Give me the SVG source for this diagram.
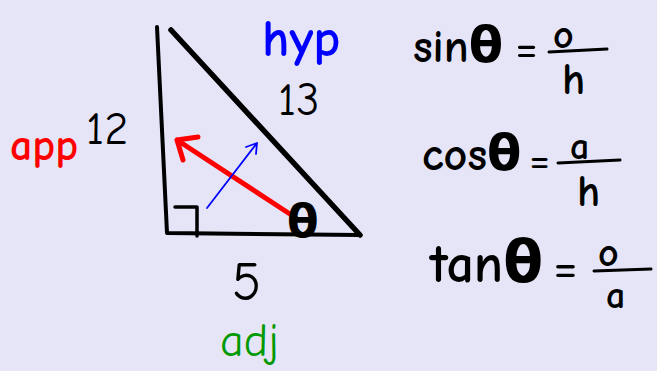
<svg xmlns="http://www.w3.org/2000/svg" width="657" height="371" viewBox="0 0 657 371">
<style>
.k{stroke:#000;fill:none;stroke-linecap:round;stroke-linejoin:round}
.t{font-family:"Comic Neue","DejaVu Sans","Liberation Sans",sans-serif;fill:#000}
.b{font-weight:bold}
.th{font-family:"DejaVu Sans",sans-serif;font-weight:bold}
</style>
<rect width="657" height="371" fill="#e5e5f7"/>
<g id="triangle">
<path class="k" stroke-width="4" d="M157,27 L167,233 L360,235"/>
<path class="k" stroke-width="5.5" d="M171,30 L360,235"/>
<path class="k" stroke-width="3.5" d="M175,207 L197,207 L197,236"/>
</g>
<g id="arrows">
<path stroke="#ff0000" fill="none" stroke-width="5" stroke-linecap="round" stroke-linejoin="round" d="M296,218 L177,140 M198,137 L177,140 L183,160"/>
<path stroke="#0000ff" fill="none" stroke-width="1.8" stroke-linecap="round" stroke-linejoin="round" d="M207,208 L257,143 M246,147 L257,143 L256,154"/>
</g>
<g id="labels">
<text class="t th" x="287" y="237" font-size="46">θ</text>
<text class="t b" x="262" y="56" font-size="52" style="fill:#0000ff">hyp</text>
<text class="t" x="278" y="115" font-size="46">13</text>
<text class="t" x="86" y="144" font-size="46">12</text>
<text class="t b" x="10" y="160" font-size="44" style="fill:#ff0000">app</text>
<text class="t" x="232" y="300" font-size="54">5</text>
<text class="t" x="220" y="356" font-size="46" style="fill:#009900">adj</text>
</g>
<g id="sin">
<text class="t b" x="413" y="62" font-size="46">sin<tspan class="th" font-size="50">θ</tspan></text>
<text class="t" x="515" y="64" font-size="50">=</text>
<text class="t b" x="553" y="48" font-size="40">o</text>
<path class="k" stroke-width="3" d="M549,52 L607,49"/>
<text class="t b" x="562" y="94" font-size="44">h</text>
</g>
<g id="cos">
<text class="t b" x="422" y="170" font-size="46">cos<tspan class="th" font-size="50">θ</tspan></text>
<text class="t" x="529" y="174" font-size="46">=</text>
<text class="t b" x="570" y="159" font-size="38">a</text>
<path class="k" stroke-width="3" d="M558,163 L620,160"/>
<text class="t b" x="577" y="206" font-size="44">h</text>
</g>
<g id="tan">
<text class="t b" x="430" y="282" font-size="54">tan<tspan class="th" font-size="58">θ</tspan></text>
<text class="t" x="553" y="284" font-size="54">=</text>
<text class="t b" x="598" y="266" font-size="40">o</text>
<path class="k" stroke-width="3" d="M594,271 L651,269"/>
<text class="t b" x="606" y="308" font-size="38">a</text>
</g>
</svg>
